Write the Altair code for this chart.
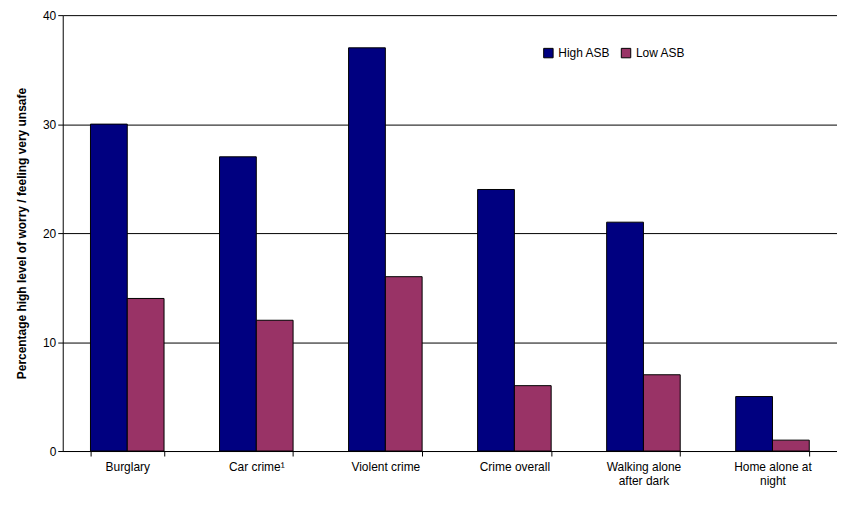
import altair as alt
import pandas as pd

categories = ["Burglary", "Car crime\u00b9", "Violent crime", "Crime overall",
              "Walking alone|after dark", "Home alone at|night"]
high_asb = [30, 27, 37, 24, 21, 5]
low_asb = [14, 12, 16, 6, 7, 1]
series = ["High ASB", "Low ASB"]

rows = []
for c, h, l in zip(categories, high_asb, low_asb):
    rows.append({"category": c, "series": "High ASB", "value": h})
    rows.append({"category": c, "series": "Low ASB", "value": l})
df = pd.DataFrame(rows)

chart = (
    alt.Chart(df)
    .mark_bar(stroke="black", strokeWidth=1)
    .encode(
        x=alt.X("category:N", sort=categories, title=None,
                scale=alt.Scale(paddingInner=0.43, paddingOuter=0.215),
                axis=alt.Axis(labelAngle=0, labelExpr="split(datum.label, '|')",
                              labelFont="Liberation Sans", labelFontSize=12,
                              labelColor="black", domainColor="black",
                              tickColor="black", tickBand="extent", labelPadding=6)),
        xOffset=alt.XOffset("series:N", sort=series, scale=alt.Scale(paddingInner=0)),
        y=alt.Y("value:Q", title="Percentage high level of worry / feeling very unsafe",
                scale=alt.Scale(domain=[0, 40]),
                axis=alt.Axis(values=[0, 10, 20, 30, 40], gridColor="black",
                              gridOpacity=1, domainColor="black", tickColor="black",
                              labelFont="Liberation Sans", labelFontSize=12,
                              labelColor="black", titleFont="Liberation Sans",
                              titleFontSize=12, titleFontWeight="bold",
                              titleColor="black", titlePadding=14)),
        color=alt.Color("series:N", sort=series, title=None,
                        scale=alt.Scale(domain=series, range=["#000080", "#993366"]),
                        legend=alt.Legend(orient="none", legendX=482, legendY=32,
                                          direction="horizontal", symbolType="square",
                                          symbolStrokeColor="black", symbolStrokeWidth=1,
                                          symbolSize=90, labelFont="Liberation Sans",
                                          labelFontSize=12, labelColor="black",
                                          columnPadding=8)),
    )
    .properties(width=778, height=438,
                padding={"left": 7, "top": 0, "right": 0, "bottom": 5})
    .configure_view(strokeWidth=0)
)

chart.save("out.html", embed_options={"renderer": "svg", "actions": False})
